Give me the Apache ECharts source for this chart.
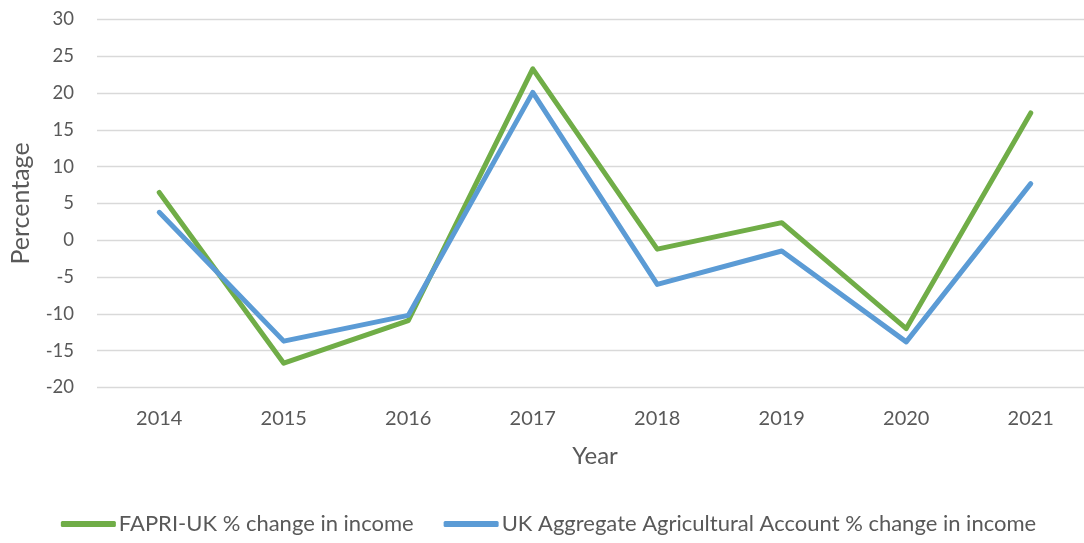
<!DOCTYPE html>
<html lang="en">
<head>
    <meta charset="UTF-8">
    <title>FAPRI-UK vs UK Aggregate Agricultural Account</title>
    <script src="https://cdn.jsdelivr.net/npm/echarts@6/dist/echarts.min.js"></script>
    <style>
        html, body { margin: 0; padding: 0; background: #fff; overflow: hidden; }
        /* the original chart is cut off on the right, so the canvas is a bit wider than the window */
        #main { width: 1097px; height: 543px; }
    </style>
</head>
<body>
    <div id="main"></div>
    <script type="text/javascript">
        // data
        const years = ['2014', '2015', '2016', '2017', '2018', '2019', '2020', '2021'];
        const fapri = [6.5, -16.7, -10.9, 23.3, -1.2, 2.4, -12.0, 17.3];
        const ukAccount = [3.8, -13.7, -10.2, 20.1, -6.0, -1.45, -13.8, 7.7];
        const seriesNames = ['FAPRI-UK % change in income', 'UK Aggregate Agricultural Account % change in income'];

        const font = 'Lato, "Open Sans", sans-serif';
        const textColor = '#595959';

        const chart = echarts.init(document.getElementById('main'));
        const option = {
            animation: false,
            textStyle: { fontFamily: font },
            grid: {
                left: 96,
                right: 4,
                top: 19.5,
                bottom: 155.5
            },
            legend: {
                bottom: 3,
                left: 'center',
                icon: 'roundRect',
                itemWidth: 55,
                itemHeight: 6,
                itemGap: 30,
                textStyle: { color: textColor, fontSize: 22, fontFamily: font, padding: [0, 0, 0, -2] },
                data: seriesNames
            },
            xAxis: {
                type: 'category',
                data: years,
                boundaryGap: true,
                name: 'Year',
                nameLocation: 'middle',
                nameGap: 57,
                nameTextStyle: { color: textColor, fontSize: 24 },
                axisLine: { show: false },
                axisTick: { show: false },
                axisLabel: { color: textColor, fontSize: 20, margin: 21 }
            },
            yAxis: {
                type: 'value',
                min: -20,
                max: 30,
                interval: 5,
                name: 'Percentage',
                nameLocation: 'middle',
                nameGap: 64,
                nameTextStyle: { color: textColor, fontSize: 25 },
                axisLine: { show: false },
                axisTick: { show: false },
                axisLabel: { color: textColor, fontSize: 18.5, margin: 23 },
                splitLine: { lineStyle: { color: '#d9d9d9', width: 1.3 } }
            },
            series: [
                {
                    name: seriesNames[0],
                    type: 'line',
                    data: fapri,
                    symbol: 'none',
                    lineStyle: { color: '#70ad47', width: 5, cap: 'round', join: 'round' },
                    itemStyle: { color: '#70ad47' }
                },
                {
                    name: seriesNames[1],
                    type: 'line',
                    data: ukAccount,
                    symbol: 'none',
                    lineStyle: { color: '#5b9bd5', width: 5, cap: 'round', join: 'round' },
                    itemStyle: { color: '#5b9bd5' }
                }
            ]
        };
        chart.setOption(option);
    </script>
</body>
</html>
